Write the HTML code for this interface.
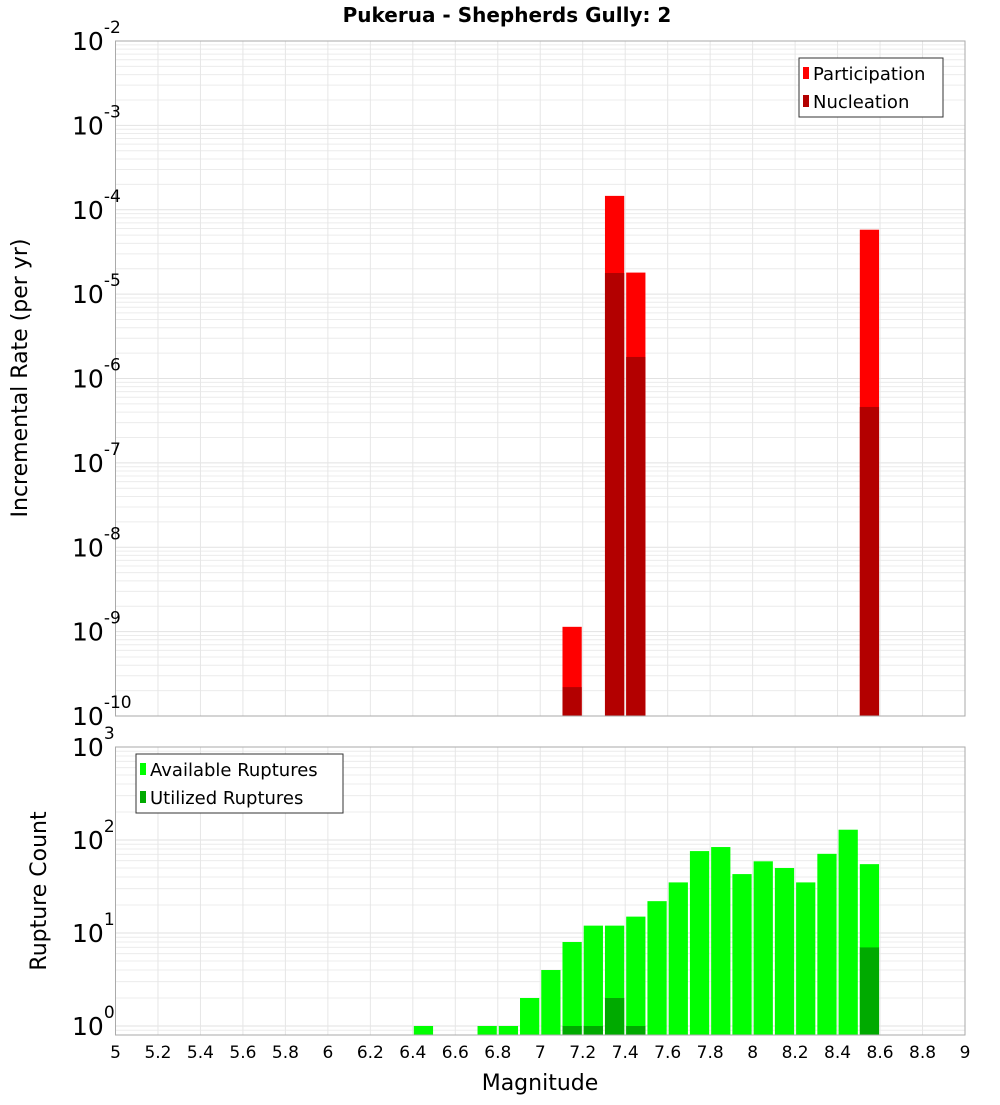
<!DOCTYPE html>
<html><head><meta charset="utf-8"><style>
body{margin:0;background:#fff;width:1000px;height:1100px;overflow:hidden}
svg text{font-family:"DejaVu Sans","Liberation Sans",sans-serif}
</style></head><body>
<svg id="c" width="1000" height="1100" xmlns="http://www.w3.org/2000/svg">
<text x="507" y="22" text-anchor="middle" font-size="20" font-weight="bold">Pukerua - Shepherds Gully: 2</text>
<text transform="translate(27,378) rotate(-90)" text-anchor="middle" font-size="22">Incremental Rate (per yr)</text>
<text transform="translate(46,891) rotate(-90)" text-anchor="middle" font-size="22">Rupture Count</text>
<text x="540" y="1090" text-anchor="middle" font-size="22">Magnitude</text>
</svg>
<script>
const mags=[5.0,5.1,5.2,5.3,5.4,5.5,5.6,5.7,5.8,5.9,6.0,6.1,6.2,6.3,6.4,6.5,6.6,6.7,6.8,6.9,7.0,7.1,7.2,7.3,7.4,7.5,7.6,7.7,7.8,7.9,8.0,8.1,8.2,8.3,8.4,8.5];
const participation=[0,0,0,0,0,0,0,0,0,0,0,0,0,0,0,0,0,0,0,0,0,1.14e-9,0,1.46e-4,1.8e-5,0,0,0,0,0,0,0,0,0,0,5.8e-5];
const nucleation=[0,0,0,0,0,0,0,0,0,0,0,0,0,0,0,0,0,0,0,0,0,2.2e-10,0,1.78e-5,1.8e-6,0,0,0,0,0,0,0,0,0,0,4.6e-7];
const available=[0,0,0,0,0,0,0,0,0,0,0,0,0,0,1,0,0,1,1,2,4,8,12,12,15,22,35,76,84,43,59,50,35,71,129,55];
const utilized=[0,0,0,0,0,0,0,0,0,0,0,0,0,0,0,0,0,0,0,0,0,1,1,2,1,0,0,0,0,0,0,0,0,0,0,7];
const xTicks=[5,5.2,5.4,5.6,5.8,6,6.2,6.4,6.6,6.8,7,7.2,7.4,7.6,7.8,8,8.2,8.4,8.6,8.8,9];
const topExps=[-2,-3,-4,-5,-6,-7,-8,-9,-10];
const botExps=[3,2,1,0];

const svg=document.getElementById('c');
const NS='http://www.w3.org/2000/svg';
function mk(t,a,p){const e=document.createElementNS(NS,t);for(const k in a)e.setAttribute(k,a[k]);(p||svg).appendChild(e);return e;}
const X0=115.5,X1=965;
const xs=m=>X0+(m-5)/4*(X1-X0);
const T0=41,T1=716,yTop=v=>T0+(-2-Math.log10(v))*(T1-T0)/8;
const B0=747,B1=1035,yBot=v=>1026-Math.log10(v)*93;

function panel(y0,y1,minE,maxE,yf,name){
  const g=mk('g',{});
  
  
  for(let e=minE;e<=maxE;e++){for(let k=1;k<10;k++){const v=k*Math.pow(10,e);const y=yf(v);if(y<y0-0.5||y>y1+0.5)continue;
    const l=mk('line',{x1:X0,x2:X1,y1:y,y2:y,stroke:k==1?'#e2e2e2':'#ececec','stroke-width':1},g);}}
  xTicks.forEach(t=>{mk('line',{x1:xs(t),x2:xs(t),y1:y0,y2:y1,stroke:'#e6e6e6','stroke-width':1},g);});
}
panel(T0,T1,-11,-2,yTop,'top');
panel(B0,B1,-1,3,yBot,'bottom');

const bw=(X1-X0)/40;
mags.forEach((m,i)=>{
  const x=xs(m)+1,w=bw-2;
  if(participation[i]>0){const y=yTop(participation[i]);const r=mk('rect',{x:x,y:y,width:w,height:T1-y,fill:'#ff0000'});
    
    }
  if(nucleation[i]>0){const y=yTop(nucleation[i]);const r=mk('rect',{x:x,y:y,width:w,height:T1-y,fill:'#b30000'});
    
    }
  if(available[i]>0){const y=yBot(available[i]);const r=mk('rect',{x:x,y:y,width:w,height:B1-y,fill:'#00ff00'});
    
    }
  if(utilized[i]>0){const y=yBot(utilized[i]);const r=mk('rect',{x:x,y:y,width:w,height:B1-y,fill:'#00aa00'});
    
    }
});

[[T0,T1,'top'],[B0,B1,'bottom']].forEach(([a,b,n])=>{const r=mk('rect',{x:X0,y:a,width:X1-X0,height:b-a,fill:'none',stroke:'#aaaaaa','stroke-width':1});
  
  });

function expLabel(y,e,name){const t=mk('text',{x:104,y:y+9,'text-anchor':'end','font-size':25});
  
  
  t.appendChild(document.createTextNode('10'));
  const s=mk('tspan',{dy:-17,'font-size':17},t);s.textContent=String(e);
  t.setAttribute('x',72);t.setAttribute('text-anchor','start');}
topExps.forEach(e=>expLabel(yTop(Math.pow(10,e)),e,'top-y-tick-'+e));
botExps.forEach(e=>expLabel(yBot(Math.pow(10,e)),e,'bottom-y-tick-'+e));
xTicks.forEach(t=>{const l=mk('text',{x:xs(t),y:1058,'text-anchor':'middle','font-size':17});
  
  
  l.textContent=String(t);});

function legend(x,y,w,items,name){const g=mk('g',{});
  
  
  mk('rect',{x:x,y:y,width:w,height:59,fill:'#fff',stroke:'#333','stroke-width':1},g);
  items.forEach((it,i)=>{mk('rect',{x:x+4,y:y+9+i*28,width:6,height:12,fill:it[1]},g);
    const t=mk('text',{x:x+14,y:y+22+i*28,'font-size':18},g);t.textContent=it[0];});}
legend(799,58,144,[['Participation','#ff0000'],['Nucleation','#b30000']],'top-legend');
legend(136,754,207,[['Available Ruptures','#00ff00'],['Utilized Ruptures','#00aa00']],'bottom-legend');
</script>
</body></html>
